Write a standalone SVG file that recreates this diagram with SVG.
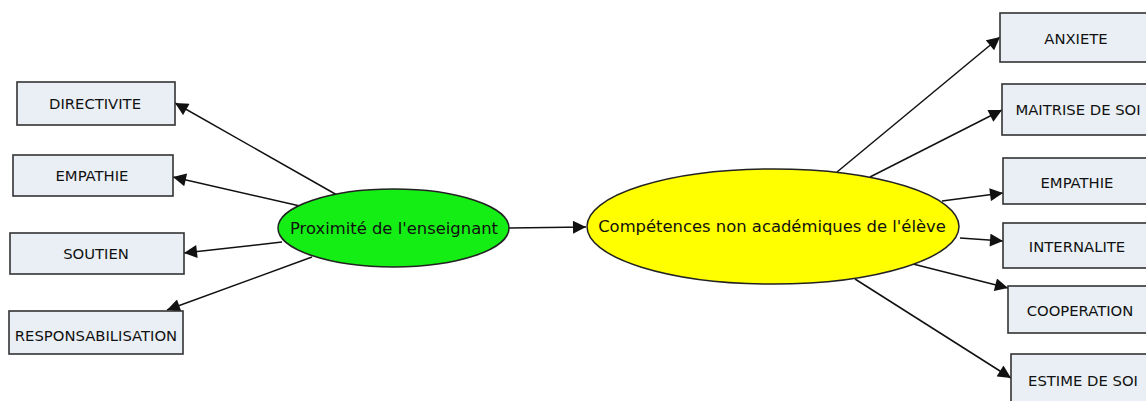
<svg xmlns="http://www.w3.org/2000/svg" width="1146" height="401" viewBox="0 0 1146 401">
<style>
.box{fill:#e9eff4;stroke:#333;stroke-width:1.6}
.lbl{font-family:"DejaVu Sans",Verdana,sans-serif;font-size:14.8px;fill:#111;text-anchor:middle;dominant-baseline:central}
.big{font-family:"DejaVu Sans",Verdana,sans-serif;font-size:16.4px;fill:#111;text-anchor:middle;dominant-baseline:central}
.edge{stroke:#111;stroke-width:1.5;fill:none;marker-end:url(#ah)}
</style>
<defs>
<marker id="ah" viewBox="0 0 10 10" refX="10" refY="5" markerWidth="14" markerHeight="13" markerUnits="userSpaceOnUse" orient="auto">
<path d="M0,0 L10,5 L0,10 z" fill="#111"/>
</marker>
</defs>
<rect width="1146" height="401" fill="#fff"/>
<g id="connectors">
<line class="edge" x1="337" y1="195" x2="175" y2="103"/>
<line class="edge" x1="300" y1="206" x2="173" y2="177"/>
<line class="edge" x1="282" y1="242" x2="184" y2="253"/>
<line class="edge" x1="312" y1="257" x2="167" y2="310"/>
<line class="edge" x1="509" y1="228" x2="586" y2="227"/>
<line class="edge" x1="837" y1="172" x2="1000" y2="37"/>
<line class="edge" x1="870" y1="177" x2="1002" y2="110"/>
<line class="edge" x1="942" y1="201" x2="1003" y2="193"/>
<line class="edge" x1="960" y1="238" x2="1003" y2="241"/>
<line class="edge" x1="913" y1="264" x2="1008" y2="288"/>
<line class="edge" x1="855" y1="279" x2="1011" y2="378"/>
</g>
<g id="n-proximite">
<ellipse cx="393.5" cy="228" rx="115.5" ry="39" fill="#14ee14" stroke="#222" stroke-width="1.5"/>
<text class="big" x="394" y="228">Proximité de l'enseignant</text>
</g>
<g id="n-competences">
<ellipse cx="773" cy="226.5" rx="186" ry="57.5" fill="#ffff00" stroke="#222" stroke-width="1.5"/>
<text class="big" x="772" y="226">Compétences non académiques de l'élève</text>
</g>
<g id="n-directivite"><rect class="box" x="17" y="82" width="158" height="43"/><text class="lbl" x="95" y="103">DIRECTIVITE</text></g>
<g id="n-empathie-l"><rect class="box" x="13" y="155" width="160" height="41"/><text class="lbl" x="92" y="175">EMPATHIE</text></g>
<g id="n-soutien"><rect class="box" x="10" y="233" width="174" height="41"/><text class="lbl" x="96" y="253">SOUTIEN</text></g>
<g id="n-responsabilisation"><rect class="box" x="9" y="311" width="174" height="43"/><text class="lbl" x="96" y="335">RESPONSABILISATION</text></g>
<g id="n-anxiete"><rect class="box" x="1000" y="13" width="152" height="49"/><text class="lbl" x="1076" y="38">ANXIETE</text></g>
<g id="n-maitrise"><rect class="box" x="1002" y="84" width="152" height="51"/><text class="lbl" x="1078" y="109">MAITRISE DE SOI</text></g>
<g id="n-empathie-r"><rect class="box" x="1003" y="158" width="152" height="46"/><text class="lbl" x="1077" y="182">EMPATHIE</text></g>
<g id="n-internalite"><rect class="box" x="1003" y="223" width="152" height="45"/><text class="lbl" x="1077" y="246">INTERNALITE</text></g>
<g id="n-cooperation"><rect class="box" x="1008" y="286" width="152" height="47"/><text class="lbl" x="1080" y="310">COOPERATION</text></g>
<g id="n-estime"><rect class="box" x="1011" y="354" width="152" height="52"/><text class="lbl" x="1083" y="380">ESTIME DE SOI</text></g>
</svg>
